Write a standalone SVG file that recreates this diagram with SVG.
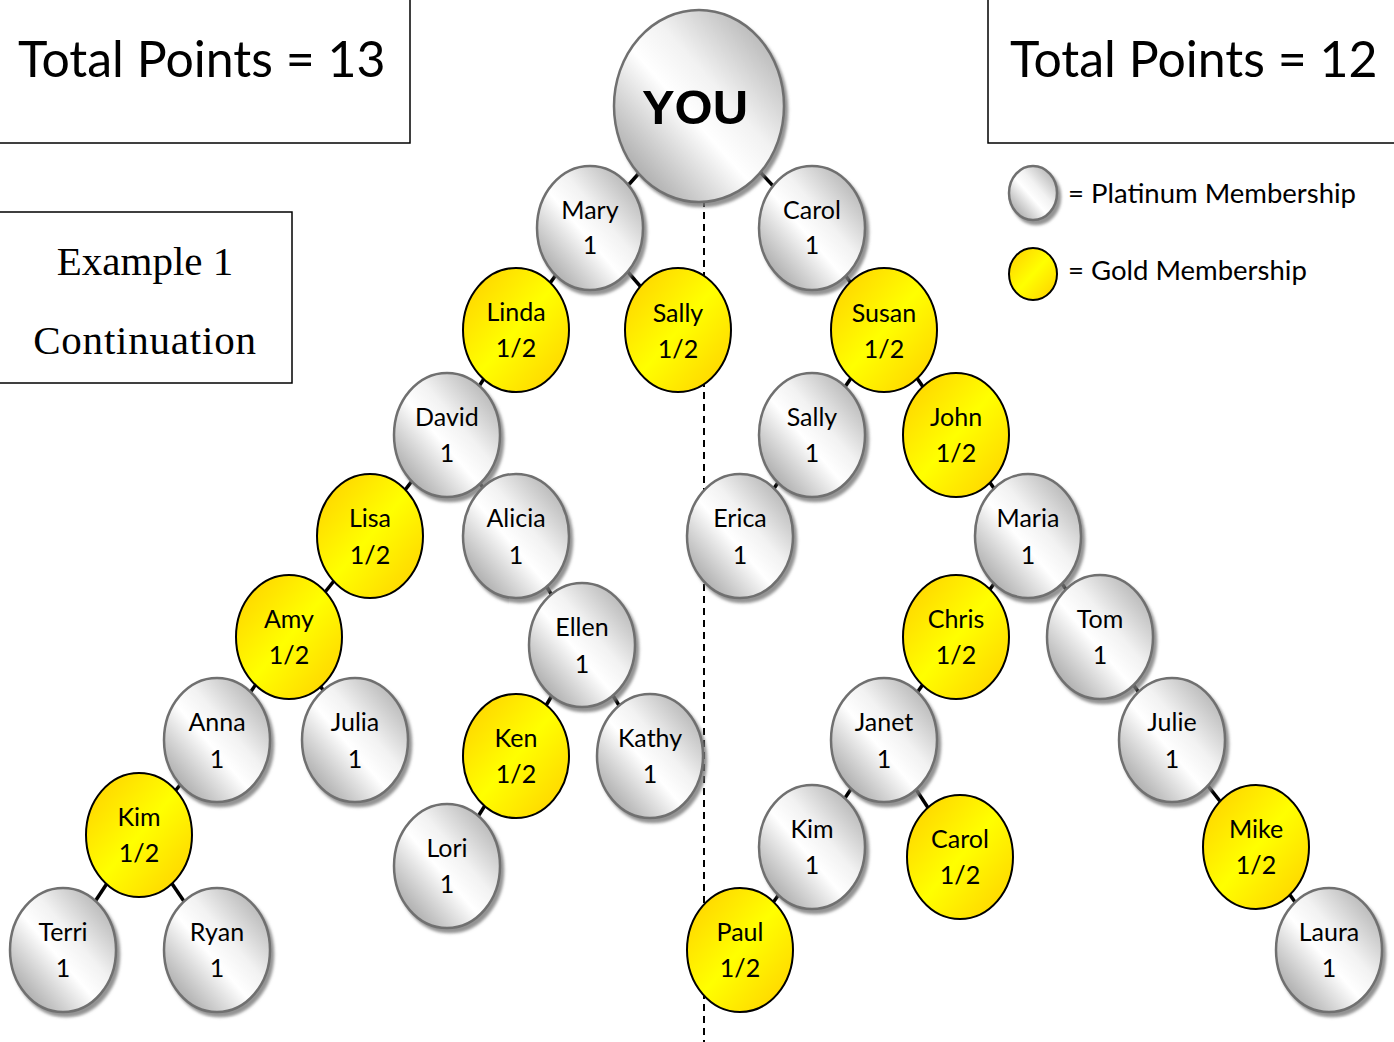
<svg xmlns="http://www.w3.org/2000/svg" width="1394" height="1042" viewBox="0 0 1394 1042">
<defs>
<linearGradient id="silver" x1="0" y1="1" x2="1" y2="0">
<stop offset="0" stop-color="#8a8a8a"/>
<stop offset="0.45" stop-color="#ffffff"/>
<stop offset="0.6" stop-color="#f2f2f2"/>
<stop offset="1" stop-color="#9e9e9e"/>
</linearGradient>
<linearGradient id="gold" x1="0" y1="0" x2="1" y2="1">
<stop offset="0" stop-color="#ffcc00"/>
<stop offset="0.5" stop-color="#ffff00"/>
<stop offset="1" stop-color="#ffcc00"/>
</linearGradient>
<filter id="sh" x="-20%" y="-20%" width="150%" height="150%">
<feDropShadow dx="3" dy="4" stdDeviation="1.5" flood-color="#777" flood-opacity="0.8"/>
</filter>
</defs>
<style>
.s{fill:url(#silver);stroke:#707070;stroke-width:2.5;filter:url(#sh)}
.g{fill:url(#gold);stroke:#000;stroke-width:2}
.t{font-family:Lato,"Open Sans",sans-serif;font-size:25px;fill:#000;text-anchor:middle}
.big{font-family:Lato,"Open Sans",sans-serif;font-size:50px;fill:#000}
.ser{font-family:"Liberation Serif",serif;font-size:41px;fill:#000;text-anchor:middle}
.leg{font-family:Lato,"Open Sans",sans-serif;font-size:27.5px;fill:#000}
.box{fill:#fff;stroke:#000;stroke-width:1.5}
.e{stroke:#000;stroke-width:3.5}
</style>
<rect width="1394" height="1042" fill="#fff"/>
<g id="boxes">
<rect class="box" x="-2" y="-2" width="412" height="145"/>
<text class="big" x="18" y="77">Total Points = 13</text>
<rect class="box" x="988" y="-2" width="410" height="145"/>
<text class="big" x="1010" y="77">Total Points = 12</text>
<rect class="box" x="-2" y="212" width="294" height="171"/>
<text class="ser" x="145" y="275">Example 1</text>
<text class="ser" x="145" y="354" style="letter-spacing:0.8px">Continuation</text>
</g>
<g id="legend">
<ellipse class="s" cx="1033" cy="193" rx="24" ry="27"/>
<text class="leg" x="1068" y="203">= Platinum Membership</text>
<ellipse class="g" cx="1033" cy="274" rx="24" ry="26"/>
<text class="leg" x="1068" y="280">= Gold Membership</text>
</g>
<line x1="704" y1="200" x2="704" y2="1042" stroke="#000" stroke-width="2" stroke-dasharray="7,5"/>
<g id="connectors">
<line class="e" x1="699" y1="106" x2="590" y2="228"/>
<line class="e" x1="699" y1="106" x2="812" y2="228"/>
<line class="e" x1="590" y1="228" x2="516" y2="330"/>
<line class="e" x1="590" y1="228" x2="678" y2="330"/>
<line class="e" x1="516" y1="330" x2="447" y2="435"/>
<line class="e" x1="447" y1="435" x2="370" y2="536"/>
<line class="e" x1="447" y1="435" x2="516" y2="536"/>
<line class="e" x1="370" y1="536" x2="289" y2="637"/>
<line class="e" x1="289" y1="637" x2="217" y2="740"/>
<line class="e" x1="289" y1="637" x2="355" y2="740"/>
<line class="e" x1="217" y1="740" x2="139" y2="835"/>
<line class="e" x1="139" y1="835" x2="63" y2="950"/>
<line class="e" x1="139" y1="835" x2="217" y2="950"/>
<line class="e" x1="516" y1="536" x2="582" y2="645"/>
<line class="e" x1="582" y1="645" x2="516" y2="756"/>
<line class="e" x1="582" y1="645" x2="650" y2="756"/>
<line class="e" x1="516" y1="756" x2="447" y2="866"/>
<line class="e" x1="812" y1="228" x2="884" y2="330"/>
<line class="e" x1="884" y1="330" x2="812" y2="435"/>
<line class="e" x1="884" y1="330" x2="956" y2="435"/>
<line class="e" x1="812" y1="435" x2="740" y2="536"/>
<line class="e" x1="956" y1="435" x2="1028" y2="536"/>
<line class="e" x1="1028" y1="536" x2="956" y2="637"/>
<line class="e" x1="1028" y1="536" x2="1100" y2="637"/>
<line class="e" x1="956" y1="637" x2="884" y2="740"/>
<line class="e" x1="884" y1="740" x2="812" y2="847"/>
<line class="e" x1="884" y1="740" x2="960" y2="857"/>
<line class="e" x1="812" y1="847" x2="740" y2="950"/>
<line class="e" x1="1100" y1="637" x2="1172" y2="740"/>
<line class="e" x1="1172" y1="740" x2="1256" y2="847"/>
<line class="e" x1="1256" y1="847" x2="1329" y2="950"/>
</g>
<g id="you"><ellipse class="s" cx="699" cy="106" rx="85" ry="96"/><text x="695" y="124" style="font-family:'Liberation Sans',sans-serif;font-size:49px;font-weight:bold;text-anchor:middle">YOU</text></g>
<g id="mary"><ellipse class="s" cx="590" cy="228" rx="53" ry="62"/><text class="t" x="590" y="219">Mary</text><text class="t" x="590" y="254">1</text></g>
<g id="carol"><ellipse class="s" cx="812" cy="228" rx="53" ry="62"/><text class="t" x="812" y="219">Carol</text><text class="t" x="812" y="254">1</text></g>
<g id="linda"><ellipse class="g" cx="516" cy="330" rx="53" ry="62"/><text class="t" x="516" y="321">Linda</text><text class="t" x="516" y="357">1/2</text></g>
<g id="sally1"><ellipse class="g" cx="678" cy="330" rx="53" ry="62"/><text class="t" x="678" y="322">Sally</text><text class="t" x="678" y="358">1/2</text></g>
<g id="susan"><ellipse class="g" cx="884" cy="330" rx="53" ry="62"/><text class="t" x="884" y="322">Susan</text><text class="t" x="884" y="358">1/2</text></g>
<g id="david"><ellipse class="s" cx="447" cy="435" rx="53" ry="62"/><text class="t" x="447" y="426">David</text><text class="t" x="447" y="462">1</text></g>
<g id="sally2"><ellipse class="s" cx="812" cy="435" rx="53" ry="62"/><text class="t" x="812" y="426">Sally</text><text class="t" x="812" y="462">1</text></g>
<g id="john"><ellipse class="g" cx="956" cy="435" rx="53" ry="62"/><text class="t" x="956" y="426">John</text><text class="t" x="956" y="462">1/2</text></g>
<g id="lisa"><ellipse class="g" cx="370" cy="536" rx="53" ry="62"/><text class="t" x="370" y="527">Lisa</text><text class="t" x="370" y="564">1/2</text></g>
<g id="alicia"><ellipse class="s" cx="516" cy="536" rx="53" ry="62"/><text class="t" x="516" y="527">Alicia</text><text class="t" x="516" y="564">1</text></g>
<g id="erica"><ellipse class="s" cx="740" cy="536" rx="53" ry="62"/><text class="t" x="740" y="527">Erica</text><text class="t" x="740" y="564">1</text></g>
<g id="maria"><ellipse class="s" cx="1028" cy="536" rx="53" ry="62"/><text class="t" x="1028" y="527">Maria</text><text class="t" x="1028" y="564">1</text></g>
<g id="amy"><ellipse class="g" cx="289" cy="637" rx="53" ry="62"/><text class="t" x="289" y="628">Amy</text><text class="t" x="289" y="664">1/2</text></g>
<g id="ellen"><ellipse class="s" cx="582" cy="645" rx="53" ry="62"/><text class="t" x="582" y="636">Ellen</text><text class="t" x="582" y="673">1</text></g>
<g id="chris"><ellipse class="g" cx="956" cy="637" rx="53" ry="62"/><text class="t" x="956" y="628">Chris</text><text class="t" x="956" y="664">1/2</text></g>
<g id="tom"><ellipse class="s" cx="1100" cy="637" rx="53" ry="62"/><text class="t" x="1100" y="628">Tom</text><text class="t" x="1100" y="664">1</text></g>
<g id="anna"><ellipse class="s" cx="217" cy="740" rx="53" ry="62"/><text class="t" x="217" y="731">Anna</text><text class="t" x="217" y="768">1</text></g>
<g id="julia"><ellipse class="s" cx="355" cy="740" rx="53" ry="62"/><text class="t" x="355" y="731">Julia</text><text class="t" x="355" y="768">1</text></g>
<g id="ken"><ellipse class="g" cx="516" cy="756" rx="53" ry="62"/><text class="t" x="516" y="747">Ken</text><text class="t" x="516" y="783">1/2</text></g>
<g id="kathy"><ellipse class="s" cx="650" cy="756" rx="53" ry="62"/><text class="t" x="650" y="747">Kathy</text><text class="t" x="650" y="783">1</text></g>
<g id="janet"><ellipse class="s" cx="884" cy="740" rx="53" ry="62"/><text class="t" x="884" y="731">Janet</text><text class="t" x="884" y="768">1</text></g>
<g id="julie"><ellipse class="s" cx="1172" cy="740" rx="53" ry="62"/><text class="t" x="1172" y="731">Julie</text><text class="t" x="1172" y="768">1</text></g>
<g id="kim1"><ellipse class="g" cx="139" cy="835" rx="53" ry="62"/><text class="t" x="139" y="826">Kim</text><text class="t" x="139" y="862">1/2</text></g>
<g id="lori"><ellipse class="s" cx="447" cy="866" rx="53" ry="62"/><text class="t" x="447" y="857">Lori</text><text class="t" x="447" y="893">1</text></g>
<g id="kim2"><ellipse class="s" cx="812" cy="847" rx="53" ry="62"/><text class="t" x="812" y="838">Kim</text><text class="t" x="812" y="874">1</text></g>
<g id="carol2"><ellipse class="g" cx="960" cy="857" rx="53" ry="62"/><text class="t" x="960" y="848">Carol</text><text class="t" x="960" y="884">1/2</text></g>
<g id="mike"><ellipse class="g" cx="1256" cy="847" rx="53" ry="62"/><text class="t" x="1256" y="838">Mike</text><text class="t" x="1256" y="874">1/2</text></g>
<g id="terri"><ellipse class="s" cx="63" cy="950" rx="53" ry="62"/><text class="t" x="63" y="941">Terri</text><text class="t" x="63" y="977">1</text></g>
<g id="ryan"><ellipse class="s" cx="217" cy="950" rx="53" ry="62"/><text class="t" x="217" y="941">Ryan</text><text class="t" x="217" y="977">1</text></g>
<g id="paul"><ellipse class="g" cx="740" cy="950" rx="53" ry="62"/><text class="t" x="740" y="941">Paul</text><text class="t" x="740" y="977">1/2</text></g>
<g id="laura"><ellipse class="s" cx="1329" cy="950" rx="53" ry="62"/><text class="t" x="1329" y="941">Laura</text><text class="t" x="1329" y="977">1</text></g>
</svg>
